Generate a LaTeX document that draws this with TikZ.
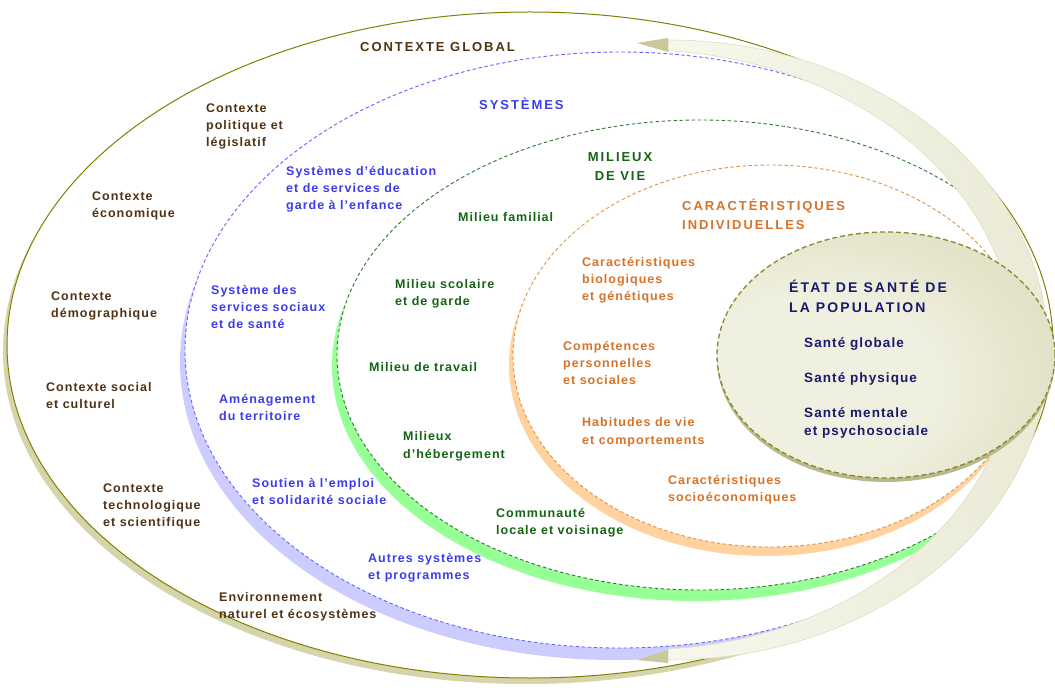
\documentclass[tikz,border=0pt]{standalone}
\usepackage{fontspec}
\setmainfont{Liberation Sans}
\newfontfamily\txtfont[LetterSpace=8]{Liberation Sans}
\newfontfamily\hdfont[LetterSpace=15]{Liberation Sans}
\usepackage{tikz}

\definecolor{ctxbrown}{RGB}{80,50,20}
\definecolor{systblue}{RGB}{60,60,235}
\definecolor{viegreen}{RGB}{20,100,20}
\definecolor{indorange}{RGB}{215,115,40}
\definecolor{popnavy}{RGB}{25,25,110}
\definecolor{oliveln}{RGB}{128,128,0}
\definecolor{olivesh}{RGB}{214,212,170}
\definecolor{blueln}{RGB}{100,100,255}
\definecolor{bluesh}{RGB}{204,204,255}
\definecolor{greenln}{RGB}{50,120,50}
\definecolor{greensh}{RGB}{150,255,150}
\definecolor{orangeln}{RGB}{220,150,70}
\definecolor{orangesh}{RGB}{255,210,160}
\definecolor{stlight}{RGB}{240,240,224}
\definecolor{stdark}{RGB}{200,200,152}
\definecolor{stsh}{RGB}{185,185,140}
\definecolor{stln}{RGB}{135,135,45}
\definecolor{bandl}{RGB}{247,247,236}
\definecolor{bandr}{RGB}{234,234,214}
\definecolor{bandln}{RGB}{222,222,196}
\definecolor{headcol}{RGB}{200,200,152}

\pgfdeclareradialshading{stfill}{\pgfpoint{-14bp}{-8bp}}{color(0bp)=(stlight); color(18bp)=(stlight); color(62bp)=(stdark); color(80bp)=(stdark)}

\begin{document}
\begin{tikzpicture}[x=1pt, y=1pt,
    txt/.style={anchor=base west, inner sep=0pt, align=left, font=\txtfont\fontsize{12.5}{17}\bfseries},
    hd/.style={anchor=base west, inner sep=0pt, align=left, font=\hdfont\fontsize{13}{19}\bfseries},
    pop/.style={txt, text=popnavy, font=\txtfont\fontsize{13.5}{18}\bfseries},
    ring/.style={line width=0.9pt, dash pattern=on 3.5pt off 2.5pt}]
\useasboundingbox (0,0) rectangle (1055,689);

% contexte global
\fill[olivesh] (526,338) ellipse [x radius=523, y radius=333];
\fill[white] (530,344) ellipse [x radius=523, y radius=333];
\draw[oliveln, line width=1pt] (530,344) ellipse [x radius=523, y radius=333];

% rings, cut by the band
\begin{scope}
  \clip (-10,-10) -- (668,-10) -- (668,40)
    arc [start angle=-85.72, end angle=85.72, x radius=375, y radius=300]
    -- (668,700) -- (-10,700) -- cycle;
  % systemes
  \fill[bluesh] (615,327) ellipse [x radius=435, y radius=298];
  \fill[white] (620,339) ellipse [x radius=435, y radius=298];
  \draw[ring, blueln] (620,339) ellipse [x radius=435, y radius=298];
  % milieux de vie
  \fill[greensh] (695,323) ellipse [x radius=363, y radius=235];
  \fill[white] (700,334) ellipse [x radius=363, y radius=235];
  \draw[ring, greenln] (700,334) ellipse [x radius=363, y radius=235];
  % caracteristiques individuelles
  \fill[orangesh] (766,324) ellipse [x radius=257, y radius=191];
  \fill[white] (770,333) ellipse [x radius=257, y radius=191];
  \draw[ring, orangeln] (770,333) ellipse [x radius=257, y radius=191];
\end{scope}

% band with its two heads
\shade[left color=bandl, right color=bandr, draw=bandln, line width=0.6pt]
  (668,649) arc [start angle=90, end angle=-90, x radius=380, y radius=310]
  -- (668,40) arc [start angle=-85.72, end angle=85.72, x radius=375, y radius=300] -- cycle;
\fill[headcol] (668,651) -- (637,646) -- (668,637) -- cycle;
\fill[headcol] (668,39) -- (637,29) -- (668,26) -- cycle;

% etat de sante
\fill[stsh] (886,330) ellipse [x radius=169, y radius=123];
\shade[shading=stfill] (886,334) ellipse [x radius=169, y radius=123];
\draw[stln, line width=1.3pt, dash pattern=on 5pt off 3pt] (886,334) ellipse [x radius=169, y radius=123];

% contexte global
\node[hd, text=ctxbrown] (cg) at (360,637) {CONTEXTE GLOBAL};
\node[txt, text=ctxbrown] (pol) at (206,542) {Contexte\\politique et\\législatif};
\node[txt, text=ctxbrown] (eco) at (92,471) {Contexte\\économique};
\node[txt, text=ctxbrown] (dem) at (51,371) {Contexte\\démographique};
\node[txt, text=ctxbrown] (soc) at (46,280) {Contexte social\\et culturel};
\node[txt, text=ctxbrown] (tec) at (103,163) {Contexte\\technologique\\et scientifique};
\node[txt, text=ctxbrown] (env) at (219,71) {Environnement\\naturel et écosystèmes};

% systemes
\node[hd, text=systblue] (sys) at (479,579) {SYSTÈMES};
\node[txt, text=systblue] (edu) at (286,479) {Systèmes d’éducation\\et de services de\\garde à l’enfance};
\node[txt, text=systblue] (sss) at (211,360) {Système des\\services sociaux\\et de santé};
\node[txt, text=systblue] (ame) at (219,269) {Aménagement\\du territoire};
\node[txt, text=systblue] (emp) at (252,185) {Soutien à l’emploi\\et solidarité sociale};
\node[txt, text=systblue] (aut) at (368,110) {Autres systèmes\\et programmes};

% milieux de vie
\node[hd, text=viegreen, anchor=base, align=center] (mil) at (620,508) {MILIEUX\\DE VIE};
\node[txt, text=viegreen] (fam) at (458,467) {Milieu familial};
\node[txt, text=viegreen] (sco) at (395,383) {Milieu scolaire\\et de garde};
\node[txt, text=viegreen] (tra) at (369,317) {Milieu de travail};
\node[txt, text=viegreen] (heb) at (403,231) {Milieux\\d’hébergement};
\node[txt, text=viegreen] (com) at (496,155) {Communauté\\locale et voisinage};

% caracteristiques individuelles
\node[hd, text=indorange] (ind) at (682,459) {CARACTÉRISTIQUES\\INDIVIDUELLES};
\node[txt, text=indorange] (bio) at (582,388) {Caractéristiques\\biologiques\\et génétiques};
\node[txt, text=indorange] (cps) at (563,304) {Compétences\\personnelles\\et sociales};
\node[txt, text=indorange] (hab) at (582,245) {Habitudes de vie\\et comportements};
\node[txt, text=indorange] (ses) at (668,188) {Caractéristiques\\socioéconomiques};

% etat de sante de la population
\node[hd, text=popnavy, font=\hdfont\fontsize{14}{20}\bfseries] (sante) at (789,376) {ÉTAT DE SANTÉ DE\\LA POPULATION};
\node[pop] (glo) at (804,341) {Santé globale};
\node[pop] (phy) at (804,306) {Santé physique};
\node[pop] (men) at (804,254) {Santé mentale\\et psychosociale};

\end{tikzpicture}
\end{document}
